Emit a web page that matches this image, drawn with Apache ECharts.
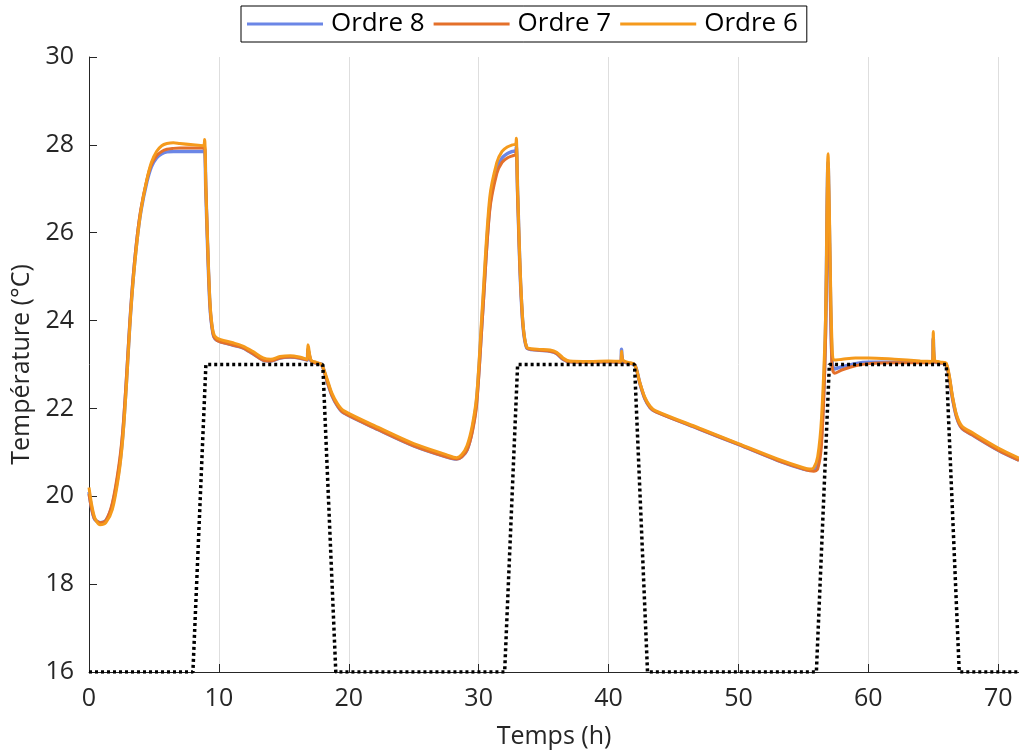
<!DOCTYPE html>
<html>
<head>
<meta charset="utf-8">
<script src="https://cdn.jsdelivr.net/npm/echarts@6/dist/echarts.min.js"></script>
<style>html,body{margin:0;padding:0;background:#fff}#c{width:1019px;height:753px}</style>
</head>
<body>
<div id="c"></div>
<script>
const seriesNames = ['Ordre 8', 'Ordre 7', 'Ordre 6'];
const hours = [0,0.4,0.85,1.3,1.8,2.3,2.6,2.9,3.15,3.4,3.7,4.0,4.45,4.8,5.2,5.6,6.0,6.5,7.0,8.0,8.8,8.9,9.0,9.3,9.55,9.85,11.0,11.85,12.6,13.4,14.0,14.7,15.5,16.2,16.8,16.85,16.9,17.1,17.5,17.9,18.3,18.7,19.15,19.6,22.4,25.0,27.5,28.3,28.7,29.1,29.5,29.85,30.3,30.85,31.4,31.8,32.2,32.6,32.85,32.9,33.0,33.3,33.7,34.5,35.5,36.0,36.5,37.0,38.5,40.0,40.95,41.0,41.1,41.5,42.0,42.4,42.8,43.2,43.6,47.0,50.0,53.0,55.0,55.5,55.8,56.1,56.4,56.7,56.9,57.0,57.2,57.4,58.0,59.0,60.0,62.0,64.0,64.95,65.0,65.1,65.5,66.0,66.5,66.8,67.2,68.0,70.0,71.6];
const ordre8 = [20.1,19.5,19.4,19.45,19.8,20.6,21.4,22.7,23.95,24.95,25.85,26.5,27.15,27.5,27.7,27.8,27.84,27.85,27.85,27.85,27.85,27.9,26.9,24.4,23.7,23.55,23.45,23.38,23.25,23.1,23.08,23.15,23.17,23.15,23.1,23.35,23.3,23.08,23.03,23.0,22.65,22.3,22.05,21.9,21.5,21.15,20.9,20.85,20.9,21.05,21.5,22.2,24.2,26.6,27.45,27.7,27.8,27.85,27.87,27.95,26.9,24.4,23.38,23.33,23.3,23.25,23.12,23.06,23.05,23.06,23.05,23.35,23.08,23.03,23.0,22.58,22.22,22.02,21.93,21.53,21.18,20.82,20.62,20.6,20.6,20.7,21.4,23.7,27.6,26.1,23.1,22.9,22.95,23.02,23.05,23.05,23.05,23.05,23.6,23.06,23.04,23.0,22.2,21.8,21.55,21.4,21.05,20.82];
const ordre7 = [20.05,19.5,19.4,19.45,19.85,20.7,21.5,22.8,24.0,25.0,25.9,26.55,27.2,27.55,27.75,27.85,27.9,27.92,27.93,27.93,27.93,28.0,27.0,24.4,23.7,23.55,23.45,23.38,23.25,23.1,23.08,23.15,23.17,23.15,23.1,23.35,23.3,23.08,23.03,23.0,22.65,22.3,22.05,21.9,21.5,21.15,20.9,20.85,20.9,21.05,21.45,22.1,24.1,26.5,27.35,27.6,27.7,27.75,27.78,27.9,26.8,24.4,23.38,23.33,23.3,23.25,23.12,23.06,23.05,23.06,23.05,23.25,23.08,23.03,23.0,22.58,22.22,22.02,21.93,21.53,21.18,20.82,20.62,20.58,20.57,20.62,21.2,23.5,27.5,26.0,23.0,22.8,22.88,22.97,23.02,23.04,23.04,23.04,23.6,23.06,23.04,23.0,22.2,21.8,21.55,21.4,21.05,20.82];
const ordre6 = [20.2,19.55,19.35,19.4,19.7,20.5,21.3,22.6,23.9,24.9,25.8,26.5,27.2,27.6,27.85,27.98,28.03,28.05,28.03,28.0,27.98,28.12,27.0,24.5,23.75,23.6,23.5,23.42,23.3,23.15,23.12,23.18,23.2,23.17,23.12,23.45,23.4,23.1,23.05,23.0,22.7,22.35,22.1,21.95,21.55,21.2,20.95,20.88,20.95,21.15,21.6,22.3,24.4,26.8,27.6,27.85,27.95,28.0,28.02,28.15,27.0,24.5,23.4,23.35,23.33,23.28,23.15,23.08,23.07,23.08,23.07,23.3,23.1,23.05,23.0,22.6,22.25,22.05,21.95,21.55,21.2,20.85,20.65,20.62,20.65,20.9,21.8,24.0,27.8,26.5,23.5,23.1,23.12,23.15,23.15,23.12,23.08,23.07,23.75,23.1,23.06,23.03,22.25,21.85,21.6,21.45,21.1,20.87];
const setpointHours = [0,8,9,18,19,32,33,42,43,56,57,66,67,71.6];
const setpointTemp  = [16,16,23,23,16,16,23,23,16,16,23,23,16,16];
const xTicks = [0,10,20,30,40,50,60,70];
const yTicks = [16,18,20,22,24,26,28,30];

const colors = ['#6b86e6', '#e4702a', '#f59a1c'];
const pair = (xs, ys) => xs.map((x, i) => [x, ys[i]]);
const txt = '#262626';
const font = 'Open Sans';

const chart = echarts.init(document.getElementById('c'), null, {renderer: 'canvas'});
chart.setOption({
  animation: false,
  backgroundColor: '#fff',
  grid: {left: 89, top: 57, right: 0, bottom: 81, containLabel: false, outerBoundsMode: 'none'},
  legend: {
    data: seriesNames,
    top: 6, left: 241,
    padding: [5, 9, 5, 6],
    borderColor: '#000', borderWidth: 1, borderRadius: 0,
    icon: 'rect', itemWidth: 76, itemHeight: 3, itemGap: 9,
    textStyle: {fontFamily: font, fontSize: 26, color: '#000', padding: [0, 0, 0, 3]}
  },
  xAxis: {
    type: 'value', min: xTicks[0], max: 71.6, interval: 10,
    name: 'Temps (h)', nameLocation: 'middle', nameGap: 52,
    nameTextStyle: {fontFamily: font, fontSize: 25, color: txt},
    axisLine: {show: true, lineStyle: {color: txt, width: 1}},
    axisTick: {show: true, inside: true, length: 8, lineStyle: {color: txt}},
    axisLabel: {fontFamily: font, fontSize: 25, color: txt, margin: 14, showMaxLabel: false,
      formatter: v => (xTicks.indexOf(v) >= 0 ? String(v) : '')},
    splitLine: {show: true, lineStyle: {color: '#dedede', width: 1}}
  },
  yAxis: {
    type: 'value', min: yTicks[0], max: yTicks[yTicks.length-1], interval: 2,
    name: 'Température (°C)', nameLocation: 'middle', nameGap: 47, nameRotate: 90,
    nameTextStyle: {fontFamily: font, fontSize: 25, color: txt},
    axisLine: {show: true, lineStyle: {color: txt, width: 1}},
    axisTick: {show: true, inside: true, length: 8, lineStyle: {color: txt}},
    axisLabel: {fontFamily: font, fontSize: 25, color: txt, margin: 15},
    splitLine: {show: false}
  },
  series: [
    {name: 'consigne', type: 'line', data: pair(setpointHours, setpointTemp), symbol: 'none',
     lineStyle: {color: '#000', width: 3.5, type: [3, 3]}, z: 5},
    {name: seriesNames[0], type: 'line', data: pair(hours, ordre8), symbol: 'none', smooth: 0.3,
     color: colors[0], lineStyle: {color: colors[0], width: 3.5}, z: 2},
    {name: seriesNames[1], type: 'line', data: pair(hours, ordre7), symbol: 'none', smooth: 0.3,
     color: colors[1], lineStyle: {color: colors[1], width: 3}, z: 3},
    {name: seriesNames[2], type: 'line', data: pair(hours, ordre6), symbol: 'none', smooth: 0.3,
     color: colors[2], lineStyle: {color: colors[2], width: 3}, z: 4}
  ]
});
</script>
</body>
</html>
